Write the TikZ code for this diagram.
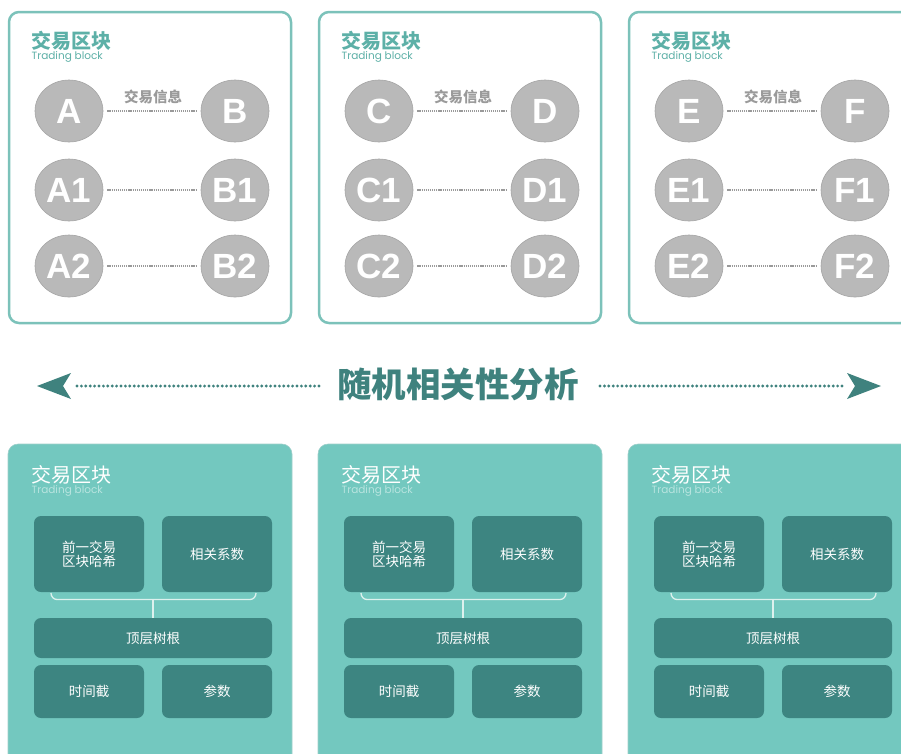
\documentclass[tikz,border=0pt]{standalone}
\usepackage{fontspec}
\setmainfont{Liberation Sans}
\newfontfamily\cjk{Noto Sans CJK SC}
\newfontfamily\geo{Poppins}
\usetikzlibrary{shapes.geometric,arrows.meta}
\definecolor{tealborder}{HTML}{7CC2BA}
\definecolor{tealtitle}{HTML}{5DB0A7}
\definecolor{ballgray}{HTML}{B9B9B9}
\definecolor{ballline}{HTML}{A5A5A5}
\definecolor{infogray}{HTML}{9A9A9A}
\definecolor{midteal}{HTML}{3F827E}
\definecolor{boxfill}{HTML}{73C8BF}
\definecolor{boxline}{HTML}{9FCFCA}
\definecolor{innerfill}{HTML}{3D8581}
\definecolor{lighttxt}{HTML}{B8E4DF}
\definecolor{bracecol}{HTML}{DDF1EE}
\begin{document}
\begin{tikzpicture}[x=1pt,y=-1pt,
  ball/.style={ellipse, fill=ballgray, draw=ballline, line width=0.6pt,
    minimum width=68pt, minimum height=62pt, inner sep=0pt, text=white,
    font=\fontsize{35}{35}\selectfont\bfseries},
  link/.style={draw=infogray, line width=1.2pt, dash pattern=on 1.2pt off 0.9pt,
    shorten <=4pt, shorten >=4pt},
  frame/.style={draw=tealborder, line width=2.5pt, rounded corners=10pt, fill=white},
  greenbox/.style={fill=boxfill, draw=boxline, line width=0.6pt, rounded corners=10pt},
  titletop/.style={anchor=west, inner sep=0pt, text=tealtitle, font=\cjk\bfseries\fontsize{20}{20}\selectfont},
  subtop/.style={anchor=west, inner sep=0pt, text=tealtitle, font=\geo\fontsize{10.5}{10}\selectfont},
  titlebot/.style={anchor=west, inner sep=0pt, text=white, font=\cjk\fontsize{20}{20}\selectfont},
  subbot/.style={anchor=west, inner sep=0pt, text=lighttxt, font=\geo\fontsize{10.5}{10}\selectfont},
  info/.style={inner sep=0pt, text=infogray, font=\cjk\bfseries\fontsize{14.5}{15}\selectfont},
  cell/.style={fill=innerfill, rounded corners=7pt, inner sep=0pt, text=white,
    font=\cjk\fontsize{13.5}{15}\selectfont, align=center},
  brace/.style={draw=bracecol, line width=1.3pt},
  dotline/.style={draw=midteal, line width=3.2pt, dash pattern=on 0pt off 4.4pt, line cap=round},
  tip/.style={fill=midteal, draw=none}
]
\useasboundingbox (0,0) rectangle (901,753);

\foreach \i/\L/\R in {0/A/B,1/C/D,2/E/F}{
  \begin{scope}[xshift=\i*310pt]
    % top frame
    \draw[frame] (9,12) rectangle (291,323);
    \node[titletop] (tt\i) at (31,41) {交易区块};
    \node[subtop] (ts\i) at (31.5,57) {Trading block};
    \node[ball] (l0\i) at (69,111) {\L};
    \node[ball] (r0\i) at (235,111) {\R};
    \node[ball] (l1\i) at (69,190) {\L1};
    \node[ball] (r1\i) at (235,190) {\R1};
    \node[ball] (l2\i) at (69,266) {\L2};
    \node[ball] (r2\i) at (235,266) {\R2};
    \node[info] (inf\i) at (153,97) {交易信息};
    \draw[link] (l0\i) -- (r0\i);
    \draw[link] (l1\i) -- (r1\i);
    \draw[link] (l2\i) -- (r2\i);
    % bottom box
    \draw[greenbox] (8,444) rectangle (292,790);
    \node[titlebot] (bt\i) at (31,475) {交易区块};
    \node[subbot] (bs\i) at (31.5,491) {Trading block};
    \node[cell, minimum width=110pt, minimum height=76pt] (c1\i) at (89,554) {前一交易\\[-1pt]区块哈希};
    \node[cell, minimum width=110pt, minimum height=76pt] (c2\i) at (217,554) {相关系数};
    \node[cell, minimum width=238pt, minimum height=40pt] (c3\i) at (153,638) {顶层树根};
    \node[cell, minimum width=110pt, minimum height=53pt] (c4\i) at (89,691.5) {时间截};
    \node[cell, minimum width=110pt, minimum height=53pt] (c5\i) at (217,691.5) {参数};
    \coordinate (bl\i) at (51,593);
    \coordinate (br\i) at (256,593);
    \coordinate (bm\i) at (153,599.5);
    \draw[brace] (bl\i) to[out=-90,in=180] (57,599.5) -- (250,599.5) to[out=0,in=-90] (br\i);
    \draw[brace] (bm\i) -- (c3\i.north);
  \end{scope}
}

% middle arrow line
\node[inner sep=0pt, text=midteal, font=\cjk\bfseries\fontsize{34.5}{34}\selectfont] (mid) at (458,384) {随机相关性分析};
\coordinate (lt) at (37,386);
\coordinate (rt) at (881,386);
\coordinate (ls) at (319,386);
\coordinate (rs) at (600,386);
\draw[dotline] (ls) -- (74,386);
\draw[dotline] (rs) -- (846,386);
\fill[tip] (lt) -- (71,373) -- (63,386) -- (71,399) -- cycle;
\fill[tip] (rt) -- (847,373) -- (855,386) -- (847,399) -- cycle;
\end{tikzpicture}
\end{document}
